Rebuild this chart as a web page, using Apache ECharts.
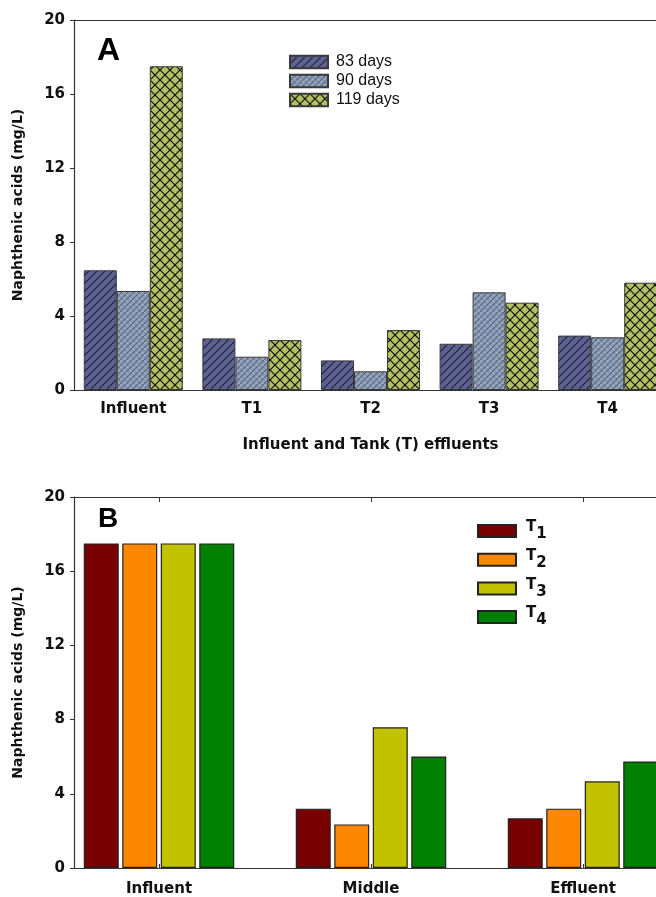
<!DOCTYPE html>
<html>
<head>
<meta charset="utf-8">
<script src="https://cdn.jsdelivr.net/npm/echarts@6/dist/echarts.min.js"></script>
<style>
html,body{margin:0;padding:0;background:#fff;overflow:hidden;}
#chart{width:656px;height:897px;}
</style>
</head>
<body>
<div id="chart"></div>
<script>
// ---- Data ----
const categoriesA = ['Influent', 'T1', 'T2', 'T3', 'T4'];
const seriesNamesA = ['83 days', '90 days', '119 days'];
const days83 = [6.47, 2.79, 1.6, 2.5, 2.94];
const days90 = [5.35, 1.8, 1.01, 5.28, 2.85];
const days119 = [17.5, 2.7, 3.24, 4.72, 5.8];

const categoriesB = ['Influent', 'Middle', 'Effluent'];
const tanksB = ['T1', 'T2', 'T3', 'T4'];
const tankT1 = [17.5, 3.2, 2.68];
const tankT2 = [17.5, 2.35, 3.2];
const tankT3 = [17.5, 7.59, 4.67];
const tankT4 = [17.5, 6.01, 5.74];

const yMin = 0, yMax = 20, yStep = 4;
const yTitle = 'Naphthenic acids (mg/L)';
const xTitleA = 'Influent and Tank (T) effluents';

// ---- Patterns ----
function makePattern(size, bg, draw) {
  const c = document.createElement('canvas');
  c.width = size; c.height = size;
  const ctx = c.getContext('2d');
  ctx.fillStyle = bg; ctx.fillRect(0, 0, size, size);
  draw(ctx, size);
  return { image: c, repeat: 'repeat' };
}
function slash(ctx, s, color, w) {
  ctx.strokeStyle = color; ctx.lineWidth = w;
  for (const k of [-s, 0, s]) { ctx.beginPath(); ctx.moveTo(k, s); ctx.lineTo(k + s, 0); ctx.stroke(); }
}
function backslash(ctx, s, color, w) {
  ctx.strokeStyle = color; ctx.lineWidth = w;
  for (const k of [-s, 0, s]) { ctx.beginPath(); ctx.moveTo(k, 0); ctx.lineTo(k + s, s); ctx.stroke(); }
}
const pat83 = makePattern(8, '#5d6290', (ctx, s) => slash(ctx, s, '#20233a', 1.2));
const pat90 = makePattern(6, '#8a9ab3', (ctx, s) => { backslash(ctx, s, '#a8b6cb', 1); slash(ctx, s, '#56657e', 1.1); });
const pat119 = makePattern(10, '#b4c064', (ctx, s) => { slash(ctx, s, '#111', 1.2); backslash(ctx, s, '#111', 1.2); });
const patsA = [pat83, pat90, pat119];
const valsA = [days83, days90, days119];

const colorsB = ['#780000', '#fb8800', '#c2c200', '#007f00'];
const valsB = [tankT1, tankT2, tankT3, tankT4];

const FONT = 'DejaVu Sans';
const axisLineStyle = { color: '#333', width: 1.2 };
const labelStyle = { fontFamily: FONT, fontWeight: 'bold', fontSize: 15, color: '#111' };

const chart = echarts.init(document.getElementById('chart'), null, { renderer: 'canvas' });

const seriesA = seriesNamesA.map((n, i) => ({
  name: n, type: 'bar', xAxisIndex: 0, yAxisIndex: 0,
  barWidth: 33, barGap: '0%',
  itemStyle: { color: patsA[i], borderColor: '#3a3a3a', borderWidth: 1 },
  data: valsA[i]
}));
const seriesB = tanksB.map((n, i) => ({
  name: n, type: 'bar', xAxisIndex: 2, yAxisIndex: 1,
  barWidth: 35, barGap: '10%',
  itemStyle: { color: colorsB[i], borderColor: '#222', borderWidth: 1.2 },
  data: valsB[i].map((v, k) => [k, v])
}));

const catTicksB = categoriesB.map((c, i) => i);

const option = {
  animation: false,
  backgroundColor: '#fff',
  title: [
    { text: 'A', left: 92, top: 30, textStyle: { fontFamily: 'Liberation Sans', fontWeight: 'bold', fontSize: 32, color: '#000' } },
    { text: 'B', left: 93, top: 500, textStyle: { fontFamily: 'Liberation Sans', fontWeight: 'bold', fontSize: 28, color: '#000' } }
  ],
  legend: [
    {
      data: seriesNamesA, orient: 'vertical', left: 284, top: 49, icon: 'rect',
      itemWidth: 38, itemHeight: 12.5, itemGap: 3,
      textStyle: { fontFamily: 'Liberation Sans', fontSize: 16, lineHeight: 16, color: '#111', padding: [0, 0, 0, 3] }
    },
    {
      data: tanksB, orient: 'vertical', left: 472, top: 515, icon: 'rect',
      itemWidth: 38, itemHeight: 12, itemGap: 6.7,
      formatter: name => '{t|T}{s|' + name.slice(1) + '}',
      textStyle: {
        padding: [0, 0, 0, 5],
        rich: {
          t: { fontFamily: FONT, fontWeight: 'bold', fontSize: 15, color: '#111', lineHeight: 22, verticalAlign: 'top' },
          s: { fontFamily: FONT, fontWeight: 'bold', fontSize: 15, color: '#111', lineHeight: 22, verticalAlign: 'bottom' }
        }
      }
    }
  ],
  grid: [
    { left: 74, width: 593, top: 20, height: 370, outerBoundsMode: 'none', containLabel: false },
    { left: 74, width: 625.6, top: 497, height: 371, outerBoundsMode: 'none', containLabel: false }
  ],
  xAxis: [
    {
      type: 'category', gridIndex: 0, data: categoriesA, position: 'bottom',
      axisLine: { lineStyle: axisLineStyle, onZero: false },
      axisTick: { inside: true, alignWithLabel: true, length: 4, lineStyle: { color: '#333' } },
      axisLabel: Object.assign({ margin: 12 }, labelStyle),
      name: xTitleA, nameLocation: 'middle', nameGap: 48,
      nameTextStyle: { fontFamily: FONT, fontWeight: 'bold', fontSize: 15, color: '#111' }
    },
    {
      type: 'category', gridIndex: 0, data: categoriesA, position: 'top',
      axisLine: { lineStyle: axisLineStyle, onZero: false },
      axisTick: { inside: true, alignWithLabel: true, length: 5, lineStyle: { color: '#333' } },
      axisLabel: { show: false }
    },
    {
      type: 'value', gridIndex: 1, position: 'bottom', min: -0.401, max: 2.55,
      splitLine: { show: false },
      axisLine: { show: true, lineStyle: axisLineStyle, onZero: false },
      axisTick: { show: true, inside: true, length: 4, customValues: catTicksB, lineStyle: { color: '#333' } },
      axisLabel: Object.assign({ margin: 14, customValues: catTicksB, formatter: v => categoriesB[Math.round(v)] }, labelStyle)
    },
    {
      type: 'value', gridIndex: 1, position: 'top', min: -0.401, max: 2.55,
      splitLine: { show: false },
      axisLine: { show: true, lineStyle: axisLineStyle, onZero: false },
      axisTick: { show: true, inside: true, length: 5, customValues: catTicksB, lineStyle: { color: '#333' } },
      axisLabel: { show: false }
    }
  ],
  yAxis: [0, 1].map(g => ({
    type: 'value', gridIndex: g, min: yMin, max: yMax, interval: yStep,
    splitLine: { show: false },
    axisLine: { show: true, lineStyle: axisLineStyle, onZero: false },
    axisTick: { show: true, inside: false, length: 4, lineStyle: { color: '#333' } },
    axisLabel: Object.assign({ margin: 9 }, labelStyle),
    name: yTitle, nameLocation: 'middle', nameRotate: 90, nameGap: 49,
    nameTextStyle: { fontFamily: FONT, fontWeight: 'bold', fontSize: 14, color: '#111' }
  })),
  series: seriesA.concat(seriesB)
};
chart.setOption(option);
</script>
</body>
</html>
